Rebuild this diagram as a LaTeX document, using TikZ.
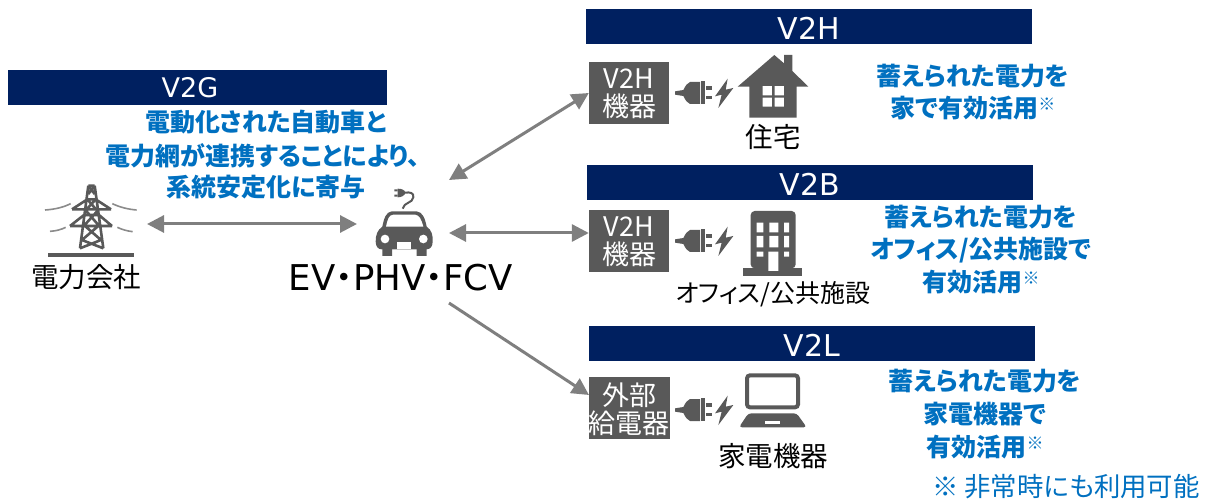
\documentclass[tikz,border=0pt]{standalone}
\usepackage{fontspec}
\setmainfont{DejaVu Sans}
\newfontfamily\jp[RawFeature=+palt]{Noto Sans CJK JP}
\usetikzlibrary{arrows.meta}
\definecolor{navy}{HTML}{002060}
\definecolor{icon}{HTML}{595959}
\definecolor{arrowgray}{HTML}{7F7F7F}
\definecolor{bluetxt}{HTML}{0070C0}
\newcommand{\fpx}[1]{\fontsize{#1pt}{#1pt}\selectfont}
\newcommand{\kome}{\raisebox{7pt}{\fpx{17}※}}
\tikzset{
  x=1pt,y=-1pt,
  bar/.style={fill=navy,minimum width=#1,minimum height=35,inner sep=0,anchor=west},
  bartext/.style={white,inner sep=0,font=\fpx{30}},
  device/.style={fill=icon,text=white,minimum width=80,minimum height=62,inner sep=0,align=center,font=\fpx{27}\jp,text depth=0},
  bluelabel/.style={text=bluetxt,inner sep=0,font=\fpx{25}\jp\bfseries},
  blacklabel/.style={text=black,inner sep=0,font=\fpx{27.5}\jp},
  conn/.style={draw=arrowgray,line width=3,{Triangle[length=17,width=17]}-{Triangle[length=17,width=17]},shorten >=0,shorten <=0},
  connone/.style={draw=arrowgray,line width=3,-{Triangle[length=17,width=17]}},
  zoomed/.style={shift={#1},scale=1/3},
  plugbolt/.pic={
    \begin{scope}[scale=1/3]
    \fill[icon] (0,-5) -- (25,-9) .. controls (32,-22) and (36,-30) .. (45,-33) -- (75,-33) -- (75,33) -- (45,33) .. controls (36,30) and (32,22) .. (25,9) -- (0,5) -- cycle;
    \fill[icon] (79,-36) rectangle (89,34);
    \fill[icon] (92,-21) rectangle (110,-10);
    \fill[icon] (92,8) rectangle (110,19);
    \fill[icon] (158,-43) -- (120,10) -- (140,5) -- (130,45) -- (175,-15) -- (152,-10) -- cycle;
    \end{scope}
  }
}
\begin{document}
\begin{tikzpicture}
\useasboundingbox (0,0) rectangle (1209,502);
% title bars
\node[bar=379] (g) at (8,87.5) {};
\node[bartext,font=\fpx{27}] (gt) at (190,88) {V2G};
\node[bar=446] (h) at (586,26.5) {};
\node[bartext] (ht) at (809,28) {V2H};
\node[bar=446] (b) at (587,182.5) {};
\node[bartext] (bt) at (810,184) {V2B};
\node[bar=446] (l) at (589,343.5) {};
\node[bartext] (lt) at (812,345) {V2L};
% device boxes
\node[device] (dh) at (629,93) {V2H\\[1pt]機器};
\node[device] (db) at (629,241) {V2H\\[1pt]機器};
\node[device] (dl) at (629,408) {外部\\[1pt]給電器};
% plugs
\pic at (675,93) {plugbolt};
\pic at (675,241) {plugbolt};
\pic at (675,410) {plugbolt};
% house
\begin{scope}[zoomed={(585,45)}]
\fill[icon,even odd rule] (458,125) -- (568,30) -- (597,55) -- (597,30) -- (622,30) -- (622,78) -- (670,125) -- (635,125) -- (635,218) -- (493,218) -- (493,125) -- cycle
 (533,123) rectangle (561,151) (569,123) rectangle (597,151) (533,158) rectangle (561,185) (569,158) rectangle (597,185);
\end{scope}
% building
\begin{scope}[zoomed={(585,200)}]
\fill[icon,rounded corners=4] (497,205) -- (497,33) -- (632,33) -- (632,205) -- cycle;
\fill[icon] (475,205) rectangle (652,228);
\fill[white] (515,68) rectangle (535,97) (553,68) rectangle (580,97) (597,68) rectangle (612,97)
 (515,108) rectangle (535,142) (553,108) rectangle (580,142) (597,108) rectangle (612,142)
 (515,155) rectangle (535,170) (597,155) rectangle (612,170) (550,155) rectangle (580,213);
\end{scope}
% laptop
\begin{scope}[zoomed={(585,365)}]
\draw[icon,line width=4,rounded corners=3] (486,31) rectangle (639,127);
\fill[icon,rounded corners=3] (490,145) -- (635,145) -- (665,187) -- (462,187) -- cycle;
\fill[white] (540,167) rectangle (585,177);
\end{scope}
% tower
\begin{scope}[zoomed={(0,170)}]
\fill[icon] (145,248) rectangle (403,262);
\draw[icon,line width=2.6,line join=round]
 (265,47) -- (284,47) (265,47) -- (240,235) (284,47) -- (310,235)
 (216,118) -- (333,118) (216,118) -- (262,88) -- (287,88) -- (333,118)
 (210,168) -- (336,168) (210,168) -- (252,135) -- (297,135) -- (336,168)
 (262,88) -- (288,118) (287,88) -- (260,118)
 (258,122) -- (295,165) (293,122) -- (254,165)
 (255,168) -- (303,210) (295,168) -- (246,210)
 (246,210) -- (310,235) (303,210) -- (240,235)
 (265,47) -- (284,72) (284,47) -- (265,72);
\draw[icon!70,line width=1.6] (135,120) .. controls (165,118) and (190,112) .. (212,101);
\draw[icon!70,line width=1.6] (337,101) .. controls (360,112) and (385,118) .. (410,120);
\draw[icon!70,line width=1.6] (150,184) .. controls (170,183) and (185,178) .. (197,172);
\draw[icon!70,line width=1.6] (352,172) .. controls (365,178) and (380,183) .. (398,185);
\end{scope}
% car
\begin{scope}[zoomed={(350,170)}]
\fill[icon] (125,124) -- (200,124) .. controls (218,126) and (225,145) .. (230,170) .. controls (245,180) and (249,195) .. (248,215) .. controls (248,230) and (240,238) .. (230,238) -- (95,238) .. controls (85,238) and (77,230) .. (77,215) .. controls (77,195) and (82,180) .. (97,170) .. controls (102,145) and (108,126) .. (125,124) -- cycle;
\fill[icon] (97,236) rectangle (126,258) (200,236) rectangle (230,258);
\fill[white] (108,170) .. controls (113,148) and (116,135) .. (130,134) -- (195,134) .. controls (208,135) and (214,148) .. (220,170) -- cycle;
\fill[white] (105,207) circle (13) (220,207) circle (13);
\fill[white] (142,217) rectangle (183,236);
\fill[icon] (143,56) .. controls (155,56) and (165,60) .. (166,68) .. controls (165,76) and (155,82) .. (143,82) -- cycle;
\fill[icon] (133,58) rectangle (143,64) (133,74) rectangle (143,80);
\draw[icon,line width=2] (165,68) .. controls (180,66) and (192,68) .. (190,82) .. controls (188,100) and (162,96) .. (158,116);
\end{scope}
% labels
\node[bluelabel] (t1) at (266,122) {電動化された自動車と};
\node[bluelabel] (t2) at (263,156) {電力網が連携することにより、};
\node[bluelabel] (t3) at (266,187) {系統安定化に寄与};
\node[bluelabel] (r1) at (973,76) {蓄えられた電力を};
\node[bluelabel] (r2) at (973,108) {家で有効活用\kome};
\node[bluelabel] (r3) at (981,217) {蓄えられた電力を};
\node[bluelabel] (r4) at (981,250) {オフィス/公共施設で};
\node[bluelabel] (r5) at (981,282) {有効活用\kome};
\node[bluelabel] (r6) at (985,381) {蓄えられた電力を};
\node[bluelabel] (r7) at (985,414) {家電機器で};
\node[bluelabel] (r8) at (985,447) {有効活用\kome};
\node[inner sep=0,text=bluetxt,font=\fpx{26.4}\jp] (note) at (1066,487) {※ 非常時にも利用可能};
\node[blacklabel] (power) at (86,277) {電力会社};
\node[blacklabel] (home) at (773,137) {住宅};
\node[blacklabel,font=\fpx{25}\jp] (office) at (773,294) {オフィス/公共施設};
\node[blacklabel] (appl) at (773,456) {家電機器};
\node[inner sep=0,font=\fpx{35.5}] (ev) at (401,278) {EV{\jp ・}PHV{\jp ・}FCV};
% connector ends
\coordinate (tw) at (147,224);
\coordinate (cl) at (357,224);
\coordinate (c1) at (449,180);
\coordinate (c2) at (449,233);
\coordinate (c3) at (449,303);
\coordinate (e3) at (589,395);
\draw[conn] (tw) -- (cl);
\draw[conn] (c1) -- (dh.west);
\draw[conn] (c2) -- (c2 -| db.west);
\draw[connone] (c3) -- (e3);
\end{tikzpicture}
\end{document}
